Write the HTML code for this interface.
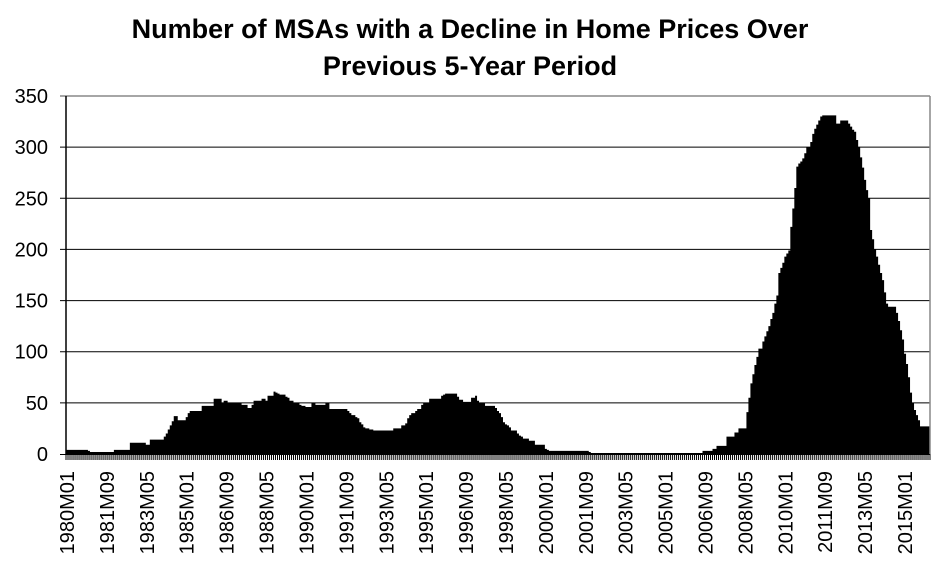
<!DOCTYPE html>
<html><head><meta charset="utf-8"><style>
html,body{margin:0;padding:0;background:#fff;}
svg{display:block;font-family:"Liberation Sans",Arial,sans-serif;}
</style></head><body>
<svg id="chart" width="938" height="577" viewBox="0 0 938 577" xmlns="http://www.w3.org/2000/svg">
<text x="470" y="38" text-anchor="middle" font-size="27" font-weight="bold">Number of MSAs with a Decline in Home Prices Over</text>
<text x="470" y="75" text-anchor="middle" font-size="27" font-weight="bold">Previous 5-Year Period</text>
<g id="grid"></g>
<g id="bars"></g>
<g id="yaxis"></g>
<g id="xaxis"></g>
</svg>
<script>
const startYear = 1980;
const values = [
4,4,4,4,4,4,4,4,4,4,4,3,
2,2,2,2,2,2,2,2,2,2,2,2,
4,4,4,4,4,4,4,4,11,11,11,11,
11,11,11,11,9,9,14,14,14,14,14,14,
14,17,20,24,28,32,37,37,33,33,33,33,
36,40,42,42,42,42,42,42,47,47,47,47,
47,47,54,54,54,54,50,52,52,50,50,50,
50,50,50,50,48,48,48,45,45,48,52,52,
52,52,54,54,52,57,57,57,61,60,59,58,
58,58,56,55,52,52,50,50,50,48,47,47,
46,46,46,50,50,48,48,48,48,48,50,50,
44,44,44,44,44,44,44,44,44,42,40,38,
38,36,35,31,29,26,25,25,24,24,23,23,
23,23,23,23,23,23,23,23,25,25,25,25,
28,28,30,35,38,40,40,42,44,44,48,50,
50,50,54,54,54,54,54,54,57,58,59,59,
59,59,59,59,56,53,53,51,51,51,51,55,
55,57,52,50,50,50,47,47,47,47,47,45,
42,40,36,31,29,28,26,23,23,23,20,18,
17,15,15,15,13,13,13,9,9,9,9,9,
5,4,3,3,3,3,3,3,3,3,3,3,
3,3,3,3,3,3,3,3,3,3,2,1,
1,1,1,1,1,1,1,1,1,1,1,1,
1,1,1,1,1,1,1,1,1,1,1,1,
1,1,1,1,1,1,1,1,1,1,1,1,
1,1,1,1,1,1,1,1,1,1,1,1,
1,1,1,1,1,1,1,3,3,3,3,3,
5,5,8,8,8,8,8,17,17,17,17,21,
21,25,25,25,25,41,55,69,78,87,95,103,
103,110,115,120,125,132,138,147,155,177,182,187,
193,196,199,222,240,260,281,284,286,289,294,300,
300,305,313,318,322,326,330,331,331,331,331,331,
331,331,323,323,326,326,326,326,323,320,317,315,
307,300,290,280,268,258,250,219,210,200,193,185,
177,170,158,147,144,144,144,144,138,130,121,112,
98,88,75,60,50,43,38,33,27,27,27,27,
27
];
const yTicks = [0,50,100,150,200,250,300,350];
const labelEvery = 20;

const NS = "http://www.w3.org/2000/svg";
const X0 = 66, XR = 930, Y0 = 454, YMAX = 350, YTOP = 96;
const BW = (XR - X0) / values.length;
function y(v){ return Y0 - (v / YMAX) * (Y0 - YTOP); }
function x(i){ return X0 + i * BW; }
function monthLabel(i){
  const yr = startYear + Math.floor(i / 12), m = i % 12 + 1;
  return yr + "M" + (m < 10 ? "0" + m : m);
}
function mk(tag, attrs, parent){
  const e = document.createElementNS(NS, tag);
  for (const k in attrs) e.setAttribute(k, attrs[k]);
  parent.appendChild(e); return e;
}
const grid = document.getElementById("grid");
const bars = document.getElementById("bars");
const yaxis = document.getElementById("yaxis");
const xaxis = document.getElementById("xaxis");

yTicks.forEach(t => {
  if (t > 0) {
    const g = mk("line", {x1: 60, x2: XR, y1: y(t), y2: y(t), stroke: t === YMAX ? "#888" : "#000", "stroke-width": t === YMAX ? 1.5 : 1}, grid);
    
    
  }
  const lb = mk("text", {x: 48, y: y(t) + 7, "text-anchor": "end", "font-size": 20}, yaxis);
  lb.textContent = t;
  
  
});

let d = "M" + x(0) + " " + Y0;
values.forEach((v, i) => { d += " L" + x(i) + " " + y(v) + " L" + (x(i) + BW) + " " + y(v); });
d += " L" + x(values.length) + " " + Y0 + " Z";
const area = mk("path", {d: d, fill: "#000"}, bars);



const ya = mk("line", {x1: 66, x2: 66, y1: YTOP, y2: Y0, stroke: "#000", "stroke-width": 1.5}, yaxis);


const rb = mk("line", {x1: XR, x2: XR, y1: YTOP, y2: Y0, stroke: "#888", "stroke-width": 1.5}, yaxis);


const xa = mk("line", {x1: 60, x2: XR, y1: Y0 + 0.5, y2: Y0 + 0.5, stroke: "#000", "stroke-width": 1}, xaxis);



for (let i = 0; i <= values.length; i++) {
  const tk = mk("line", {x1: x(i), x2: x(i), y1: Y0, y2: Y0 + 6, stroke: "#000", "stroke-width": 1}, xaxis);
  
  
}
for (let i = 0; i < values.length; i += labelEvery) {
  const cx = x(i) + BW / 2 + 7;
  const t = mk("text", {transform: "translate(" + cx + ",471) rotate(-90)", "text-anchor": "end", "font-size": 20}, xaxis);
  t.textContent = monthLabel(i);
  
  
}
</script>
</body></html>
